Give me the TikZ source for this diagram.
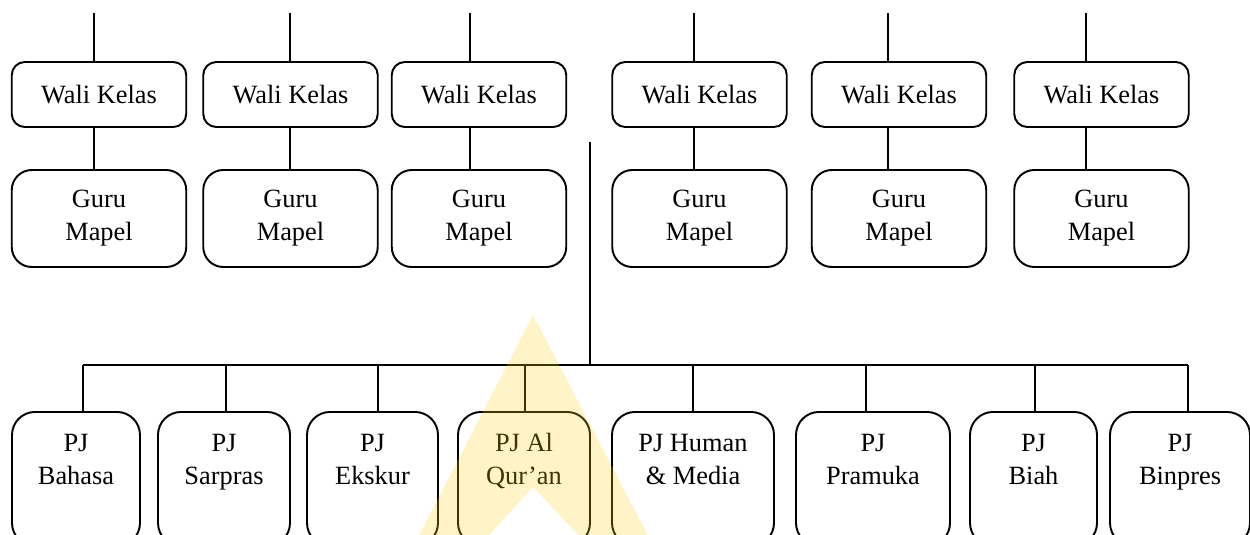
\documentclass[tikz,border=0pt]{standalone}
\usepackage{fontspec}
\setmainfont{Liberation Serif}
\begin{document}
\begin{tikzpicture}[x=0.02cm,y=-0.02cm,line width=1.1pt,
    font=\fontsize{15}{18.8}\selectfont,
    wali/.style={draw,rounded corners=0.26cm,minimum width=3.49cm,minimum height=1.3cm,inner sep=0pt},
    guru/.style={draw,rounded corners=0.4cm,align=center,minimum width=3.49cm,minimum height=1.94cm,inner sep=0pt},
    pj/.style={draw,rounded corners=0.46cm,align=center,anchor=north,inner sep=0pt,text height=1.46cm,text depth=1.22cm},
    wmark/.style={fill={rgb,255:red,255;green,207;blue,35},fill opacity=0.25}]
    \useasboundingbox (0,0) rectangle (1250,534);
    \clip (0,0) rectangle (1250,534);
    % wali kelas dan guru mapel
    \foreach \i/\cx/\lx in {1/99/94,2/290.5/290,3/479/470,4/699.5/694,5/899/888,6/1101.5/1086}{
        \node[wali] (w\i) at (\cx,94.5) {Wali Kelas};
        \node[guru] (g\i) at (\cx,218.5) {Guru\\Mapel};
        \coordinate (t\i) at (\lx,13);
        \draw (t\i) -- (t\i |- w\i.north);
        \draw (t\i |- w\i.south) -- (t\i |- g\i.north);
    }
    % penanggung jawab
    \coordinate (hub) at (590,142);
    \coordinate (bar) at (590,365);
    \draw (hub) -- (bar);
    \foreach \i/\cx/\lx/\w/\txt in {1/76/83/128/{PJ\\Bahasa},2/224/226/132/{PJ\\Sarpras},
        3/372.5/378/131/{PJ\\Ekskur},4/524/525/132/{PJ Al\\Qur'an},5/693/693/162/{PJ Human\\\& Media},
        6/873/866/154/{PJ\\Pramuka},7/1033.5/1035/127/{PJ\\Biah},8/1180/1188/140/{PJ\\Binpres}}{
        \node[pj,minimum width=\w*0.02cm] (p\i) at (\cx,411) {\txt};
        \coordinate (d\i) at (\lx,365);
        \draw (d\i) -- (d\i |- p\i.north);
    }
    \draw (d1) -- (d8);
    %\draw[help lines] (0,0) grid[step=50] (1250,534);
    \fill[wmark,even odd rule] (533,315) -- (409,555) -- (658,555) -- cycle
        (533,487) -- (471,555) -- (597,555) -- cycle;
\end{tikzpicture}
\end{document}
